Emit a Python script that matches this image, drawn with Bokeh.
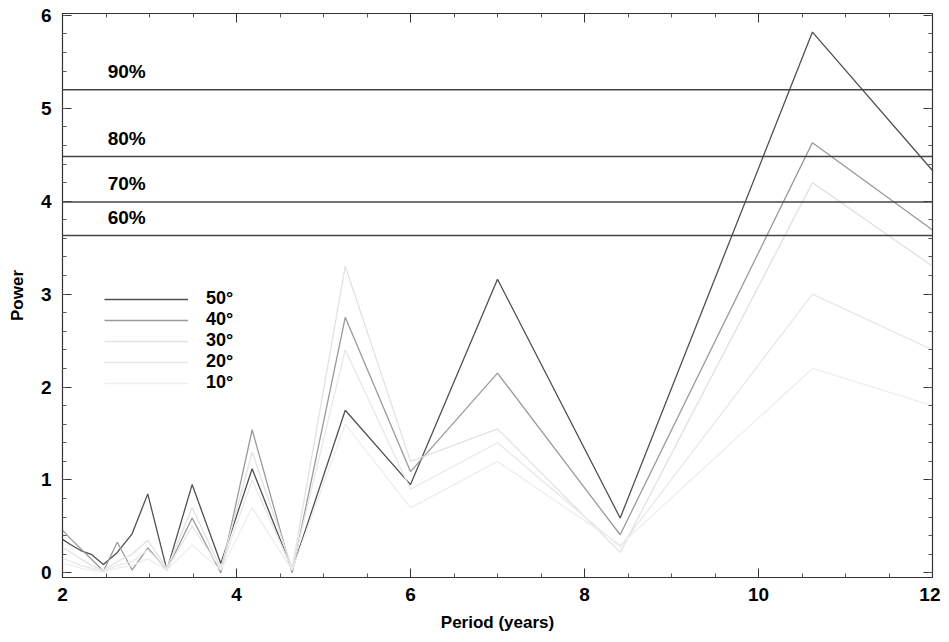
from bokeh.plotting import figure
from bokeh.models import Range1d, LinearAxis, Label, Legend, LegendItem, Span, FixedTicker, CustomJSTickFormatter
from bokeh.embed import file_html
from bokeh.resources import INLINE

# ---- data ----
period = [2.0, 2.1, 2.21, 2.33, 2.47, 2.63, 2.8, 2.98, 3.2, 3.49, 3.82, 4.18, 4.64, 5.25, 6.0, 7.0, 8.41, 10.62, 12.0]
power_50 = [0.36, 0.30, 0.24, 0.20, 0.09, 0.22, 0.42, 0.85, 0.03, 0.95, 0.10, 1.12, 0.03, 1.75, 0.95, 3.16, 0.59, 5.82, 4.33]
power_40 = [0.46, 0.36, 0.26, 0.15, 0.02, 0.33, 0.03, 0.27, 0.03, 0.59, 0.00, 1.54, 0.00, 2.75, 1.09, 2.15, 0.41, 4.63, 3.69]
power_30 = [0.27, 0.22, 0.15, 0.08, 0.03, 0.12, 0.20, 0.35, 0.05, 0.70, 0.05, 1.30, 0.05, 3.30, 1.20, 1.55, 0.22, 4.20, 3.30]
power_20 = [0.16, 0.12, 0.08, 0.05, 0.02, 0.08, 0.12, 0.25, 0.04, 0.50, 0.04, 1.00, 0.04, 2.40, 0.90, 1.40, 0.28, 3.00, 2.40]
power_10 = [0.10, 0.08, 0.05, 0.03, 0.01, 0.05, 0.08, 0.15, 0.03, 0.30, 0.03, 0.70, 0.03, 1.60, 0.70, 1.20, 0.30, 2.20, 1.80]
series_labels = ["50°", "40°", "30°", "20°", "10°"]
series_colors = ["#505050", "#9a9a9a", "#e2e2e2", "#e8e8e8", "#eeeeee"]

sig_levels = [5.20, 4.48, 3.99, 3.63]
sig_labels = ["90%", "80%", "70%", "60%"]

x_ticks = [2, 4, 6, 8, 10, 12]
x_minor = [2.5, 3, 3.5, 4.5, 5, 5.5, 6.5, 7, 7.5, 8.5, 9, 9.5, 10.5, 11, 11.5]
y_ticks = [0, 1, 2, 3, 4, 5, 6]
y_minor = [round(i * 0.2, 1) for i in range(31)]

FONT = "Liberation Sans"

p = figure(width=940, height=634, output_backend="svg", toolbar_location=None,
           x_range=Range1d(2, 12), y_range=Range1d(-0.05, 6.02),
           min_border_left=62, min_border_right=8, min_border_top=13, min_border_bottom=56)
p.grid.visible = False
p.outline_line_color = "#333333"
p.outline_line_width = 1.2
p.background_fill_color = "white"
p.border_fill_color = "white"

def style_axis(ax, ticks, minor, labels=True):
    ax.ticker = FixedTicker(ticks=ticks, minor_ticks=minor)
    ax.major_tick_in = 9
    ax.major_tick_out = 0
    ax.minor_tick_in = 4
    ax.minor_tick_out = 0
    ax.axis_line_color = "#333333"
    ax.major_tick_line_color = "#333333"
    ax.minor_tick_line_color = "#555555"
    ax.major_label_text_font = FONT
    ax.major_label_text_font_style = "bold"
    ax.major_label_text_color = "black"
    ax.axis_label_text_font = FONT
    ax.axis_label_text_font_style = "bold"
    ax.axis_label_text_font_size = "17px"
    ax.axis_label_text_color = "black"
    ax.major_label_text_font_size = "19px"
    if not labels:
        ax.formatter = CustomJSTickFormatter(code="return ''")
        ax.major_label_standoff = 0

style_axis(p.xaxis[0], x_ticks, x_minor)
style_axis(p.yaxis[0], y_ticks, y_minor)
p.xaxis[0].axis_label = "Period (years)"
p.yaxis[0].axis_label = "Power"
p.xaxis[0].major_label_standoff = 10
p.yaxis[0].major_label_standoff = 11
p.xaxis[0].axis_label_standoff = 9
p.yaxis[0].axis_label_standoff = 11

top = LinearAxis()
style_axis(top, x_ticks, x_minor, labels=False)
p.add_layout(top, "above")
right = LinearAxis()
style_axis(right, y_ticks, y_minor, labels=False)
p.add_layout(right, "right")

# significance levels
for lvl, lab in zip(sig_levels, sig_labels):
    p.add_layout(Span(location=lvl, dimension="width", line_color="#444444", line_width=1.5))
    p.add_layout(Label(x=2.52, y=lvl, y_offset=8, text=lab, text_font=FONT,
                       text_font_style="bold", text_font_size="19px", text_color="black",
                       text_baseline="bottom"))

# series
all_series = [power_50, power_40, power_30, power_20, power_10]
items = []
for vals, lab, col in zip(all_series, series_labels, series_colors):
    r = p.line(period, vals, line_color=col, line_width=1.3)
    items.append(LegendItem(label=lab, renderers=[r]))

legend = Legend(items=items, location=(42, 184), glyph_width=84, glyph_height=18,
                label_height=18, spacing=0, padding=4, margin=0,
                label_text_font=FONT, label_text_font_style="bold",
                label_text_font_size="18px", label_text_color="black",
                label_standoff=18, border_line_color=None, background_fill_alpha=0)
p.add_layout(legend)

open("out.html", "w").write(file_html(p, INLINE))
